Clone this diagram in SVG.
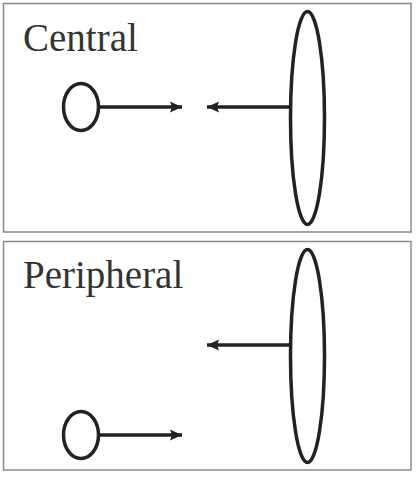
<svg xmlns="http://www.w3.org/2000/svg" width="416" height="478" viewBox="0 0 416 478">
<style>
.panel{fill:#fff;stroke:#8a8a8a;stroke-width:1.5}
.shape{fill:none;stroke:#222;stroke-width:3.5}
.conn{stroke:#222;stroke-width:3.5;fill:none}
.lbl{font-family:"Liberation Serif",serif;font-size:39px;fill:#333}
</style>
<defs>
<marker id="ah" markerUnits="userSpaceOnUse" markerWidth="14" markerHeight="14" viewBox="0 0 14 14" refX="12" refY="7" orient="auto">
<path d="M0,1.5 L12,7 L0,12.5 L2,7 Z" fill="#222"/>
</marker>
</defs>
<rect x="3.5" y="3.5" width="407.5" height="228.5" class="panel"/>
<rect x="3.5" y="241.5" width="407.5" height="228.5" class="panel"/>
<g id="top-label"><text x="23" y="51" class="lbl">Central</text></g>
<g id="top-small"><ellipse cx="81" cy="107" rx="17.5" ry="23.5" class="shape"/></g>
<g id="top-big"><ellipse cx="307.5" cy="118" rx="17" ry="106.5" class="shape"/></g>
<g id="bottom-label"><text x="23" y="288" class="lbl">Peripheral</text></g>
<g id="bottom-small"><ellipse cx="81" cy="435" rx="17.5" ry="23.5" class="shape"/></g>
<g id="bottom-big"><ellipse cx="307.5" cy="356" rx="17" ry="106.5" class="shape"/></g>
<g id="connectors">
<line x1="99" y1="107" x2="182" y2="107" class="conn" marker-end="url(#ah)"/>
<line x1="290" y1="107" x2="207" y2="107" class="conn" marker-end="url(#ah)"/>
<line x1="99" y1="435" x2="182" y2="435" class="conn" marker-end="url(#ah)"/>
<line x1="290" y1="345" x2="207" y2="345" class="conn" marker-end="url(#ah)"/>
</g>
</svg>
